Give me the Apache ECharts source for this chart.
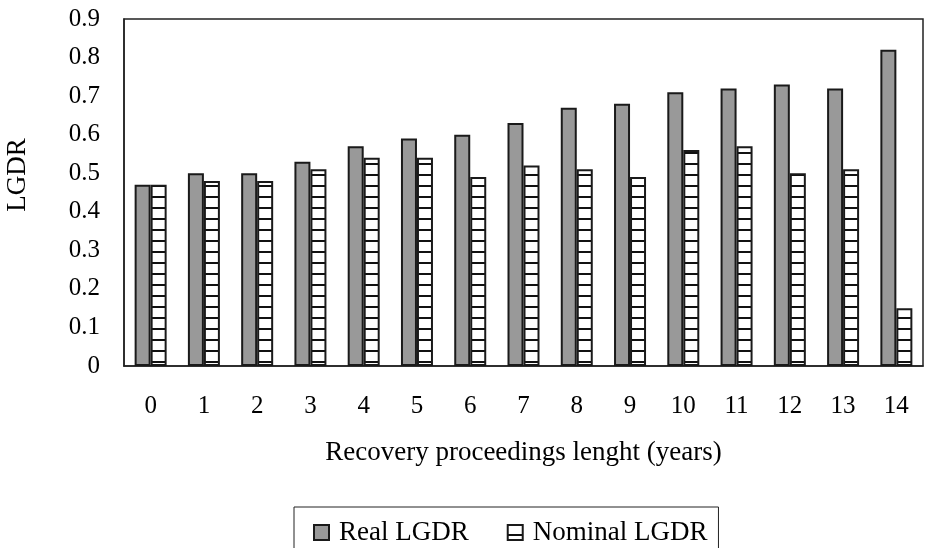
<!DOCTYPE html>
<html>
<head>
<meta charset="utf-8">
<script src="https://cdn.jsdelivr.net/npm/echarts@6/dist/echarts.min.js"></script>
<style>
html,body{margin:0;padding:0;background:#fff;}
#chart{width:925px;height:548px;}
</style>
</head>
<body>
<div id="chart"></div>
<script>
var categories = ['0','1','2','3','4','5','6','7','8','9','10','11','12','13','14'];
var realLGDR = [0.47, 0.50, 0.50, 0.53, 0.57, 0.59, 0.60, 0.63, 0.67, 0.68, 0.71, 0.72, 0.73, 0.72, 0.82];
var nominalLGDR = [0.47, 0.48, 0.48, 0.51, 0.54, 0.54, 0.49, 0.52, 0.51, 0.49, 0.56, 0.57, 0.50, 0.51, 0.15];
var seriesNames = ['Real LGDR', 'Nominal LGDR'];
var xTitle = 'Recovery proceedings lenght (years)';
var yTitle = 'LGDR';

var FONT = '"Liberation Serif", "Times New Roman", serif';

// horizontal hatch pattern
var pc = document.createElement('canvas');
pc.width = 8; pc.height = 11;
var ctx = pc.getContext('2d');
ctx.fillStyle = '#ffffff';
ctx.fillRect(0, 0, 8, 11);
ctx.fillStyle = '#111111';
ctx.fillRect(0, 9, 8, 2);

var chart = echarts.init(document.getElementById('chart'), null, {renderer: 'canvas'});
chart.setOption({
  animation: false,
  backgroundColor: '#ffffff',
  textStyle: {fontFamily: FONT, color: '#000'},
  grid: {
    left: 124, right: 2, top: 19, bottom: 182,
    show: true, borderColor: '#222', borderWidth: 1.5, containLabel: false
  },
  legend: {
    data: seriesNames,
    left: 294, top: 507,
    orient: 'horizontal',
    icon: 'rect',
    itemWidth: 15, itemHeight: 15, itemGap: 38,
    padding: [12, 11, 40, 19],
    borderColor: '#222', borderWidth: 1,
    textStyle: {fontFamily: FONT, fontSize: 27, color: '#000', padding: [0, 0, 0, 5]}
  },
  graphic: [{
    type: 'text',
    x: 18, y: 175,
    rotation: Math.PI / 2,
    style: {
      text: yTitle, fontFamily: FONT, fontSize: 27, fill: '#000',
      align: 'center', verticalAlign: 'middle'
    }
  }],
  xAxis: {
    type: 'category',
    data: categories,
    name: xTitle,
    nameLocation: 'middle',
    nameGap: 73,
    nameTextStyle: {fontFamily: FONT, fontSize: 27, color: '#000'},
    axisLine: {show: true, lineStyle: {color: '#222', width: 1.5}},
    axisTick: {show: false},
    axisLabel: {fontFamily: FONT, fontSize: 25, color: '#000', margin: 28}
  },
  yAxis: {
    type: 'value',
    min: 0, max: 0.9, interval: 0.1,
    axisLine: {show: true, lineStyle: {color: '#222', width: 1.5}},
    axisTick: {show: false},
    splitLine: {show: false},
    axisLabel: {fontFamily: FONT, fontSize: 25, color: '#000', margin: 24}
  },
  series: [{
    name: seriesNames[0],
    type: 'bar',
    data: realLGDR,
    barWidth: 16,
    barGap: '0%',
    itemStyle: {color: '#999999', borderColor: '#1a1a1a', borderWidth: 2}
  }, {
    name: seriesNames[1],
    type: 'bar',
    data: nominalLGDR,
    barWidth: 16,
    barGap: '0%',
    itemStyle: {color: {image: pc, repeat: 'repeat'}, borderColor: '#1a1a1a', borderWidth: 2}
  }]
});
</script>
</body>
</html>
